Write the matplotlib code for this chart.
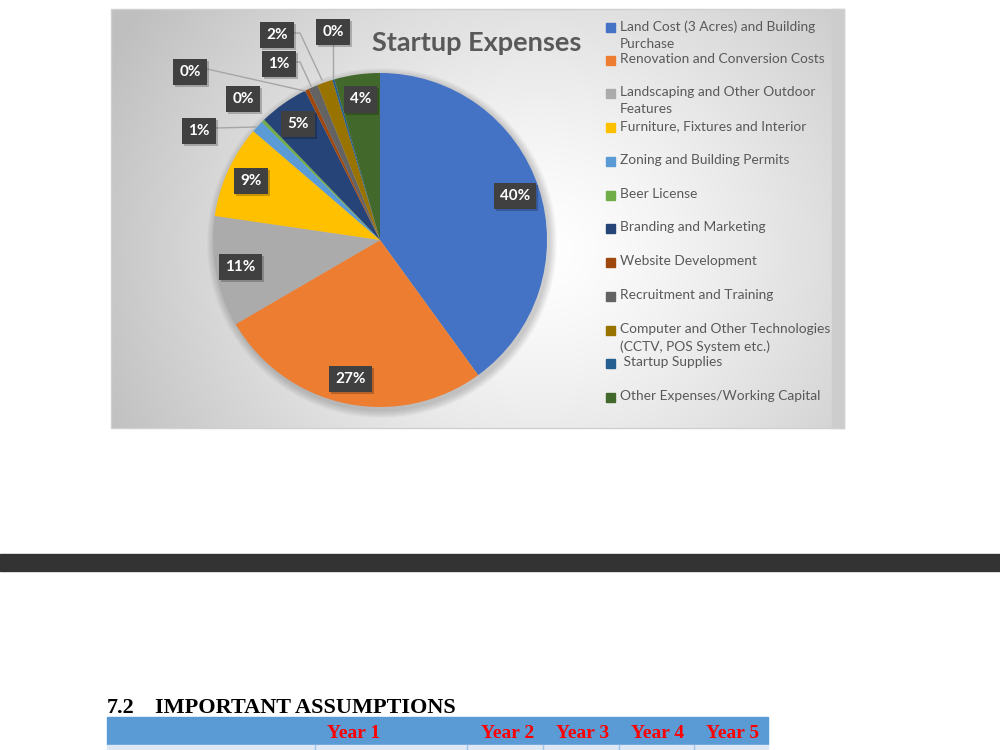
import numpy as np
import matplotlib.pyplot as plt
from matplotlib.patches import Rectangle

# share of startup expenses (percent)
categories = ["Land Cost (3 Acres) and Building\nPurchase",
              "Renovation and Conversion Costs",
              "Landscaping and Other Outdoor\nFeatures",
              "Furniture, Fixtures and Interior",
              "Zoning and Building Permits",
              "Beer License",
              "Branding and Marketing",
              "Website Development",
              "Recruitment and Training",
              "Computer and Other Technologies\n(CCTV, POS System etc.)",
              " Startup Supplies",
              "Other Expenses/Working Capital"]
shares = [40.0, 26.6, 10.7, 9.0, 1.2, 0.3, 4.8, 0.4, 0.9, 1.5, 0.2, 4.4]
colors = ["#4472c4", "#ed7d31", "#ababab", "#ffc000", "#5b9bd5", "#70ad47",
          "#264478", "#9e480e", "#636363", "#997300", "#255e91", "#43682b"]
years = ["Year 1", "Year 2", "Year 3", "Year 4", "Year 5"]

# outside labels for the thin slices: (index, label xy, leader path) in pixels
outside = {4: ((199, 131), [(216, 128), (256, 127)]),
           5: ((243, 99), None),
           7: ((190, 72), [(207, 69), (305, 91)]),
           8: ((279, 64), [(294, 62), (300, 62), (311, 86)]),
           9: ((277, 35), [(292, 33), (300, 33), (322, 80)]),
           10: ((333, 32), [(333, 44), (333, 78)])}
legend_y = [27, 60, 93, 127, 161, 195, 228, 262, 296, 330, 363, 397]

cx, cy, r = 380, 240, 167
ui = "Lato"

fig = plt.figure(figsize=(10, 7.5), dpi=100)
bg = fig.add_axes([0, 0, 1, 1], zorder=0)
bg.set_xlim(0, 1000)
bg.set_ylim(750, 0)
bg.axis("off")

# chart panel with radial grey gradient
px0, px1, py0, py1 = 111, 844, 9, 428
xx, yy = np.meshgrid(np.linspace(px0, px1, 400), np.linspace(py0, py1, 240))
d = np.hypot(xx - 540, (yy - 250) * 1.1)
t = np.clip(d / 480, 0, 1) ** 1.3
shade = 1 - 0.25 * t
img = np.dstack([shade, shade, shade])
bg.imshow(img, extent=[px0, px1, py1, py0], aspect="auto", zorder=1)
bg.add_patch(Rectangle((832, py0), px1 - 832, py1 - py0, color="#cdcdcd", zorder=2))
bg.add_patch(Rectangle((px0, py0), px1 - px0, py1 - py0, fill=False,
                       ec="#d0d0d0", lw=1, zorder=3))

# soft shadow behind the pie
for k in range(8):
    bg.add_patch(plt.Circle((cx + 2, cy + 3), r + 8 - k, color="#000000",
                            alpha=0.025, lw=0, zorder=4))

# dark band across the page
bg.add_patch(Rectangle((0, 554), 1000, 17, color="#333333", zorder=2))

# heading and table header
bg.text(107, 713, "7.2", fontsize=16, fontweight="bold", family="Liberation Serif",
        va="baseline", color="black")
bg.text(155, 713, "IMPORTANT ASSUMPTIONS", fontsize=16, fontweight="bold",
        family="Liberation Serif", va="baseline", color="black")
bg.add_patch(Rectangle((107, 717), 661, 27, color="#5b9bd5", zorder=2))
bg.add_patch(Rectangle((107, 745), 661, 10, color="#dde8f4", zorder=2))
for xs in [315, 467, 543, 619, 694]:
    bg.plot([xs, xs], [745, 750], color="#9dc3e6", lw=1, zorder=3)
year_x = [380, 534, 609, 684, 759]
for yx, yl in zip(year_x, years):
    bg.text(yx, 738, yl, fontsize=14, fontweight="bold", family="Liberation Serif",
            color="#ff0000", ha="right", va="baseline", zorder=4)

# pie
pax = fig.add_axes([(cx - r) / 1000, 1 - (cy + r) / 750, 2 * r / 1000, 2 * r / 750], zorder=1)
wedges, _ = pax.pie(shares, colors=colors, startangle=90, counterclock=False,
                    radius=1, wedgeprops=dict(linewidth=0))
pax.set_xlim(-1, 1)
pax.set_ylim(-1, 1)
pax.axis("off")

ov = fig.add_axes([0, 0, 1, 1], zorder=2)
ov.set_xlim(0, 1000)
ov.set_ylim(750, 0)
ov.axis("off")

box = dict(boxstyle="square,pad=0.4", fc="#404040", ec="none")
total = sum(shares)
start = 0
for i, s in enumerate(shares):
    mid = (start + s / 2) / total * 2 * np.pi
    start += s
    lab = "%d%%" % round(s / total * 100)
    if i in outside:
        (lx, ly), path = outside[i]
        if path:
            xs_, ys_ = zip(*path)
            ov.plot(xs_, ys_, color="#a6a6a6", lw=1, zorder=1)
    else:
        lx = cx + 0.85 * r * np.sin(mid)
        ly = cy - 0.85 * r * np.cos(mid)
    ov.text(lx + 2, ly + 2, lab, fontsize=11, fontweight="bold", family=ui,
            color="none", ha="center", va="center",
            bbox=dict(boxstyle="square,pad=0.4", fc="#000000", ec="none", alpha=0.22), zorder=2)
    ov.text(lx, ly, lab, fontsize=11, fontweight="bold", family=ui, color="white",
            ha="center", va="center", bbox=box, zorder=3)

ov.text(477, 43, "Startup Expenses", fontsize=19.5, fontweight="bold", family=ui,
        color="#595959", ha="center", va="center")

for c, col, ly in zip(categories, colors, legend_y):
    ov.add_patch(Rectangle((606, ly - 4), 9, 9, color=col))
    ov.text(620, ly - 7, c, fontsize=9.9, family=ui, color="#595959",
            ha="left", va="top", linespacing=1.5)

fig.savefig("out.png", dpi=100)
